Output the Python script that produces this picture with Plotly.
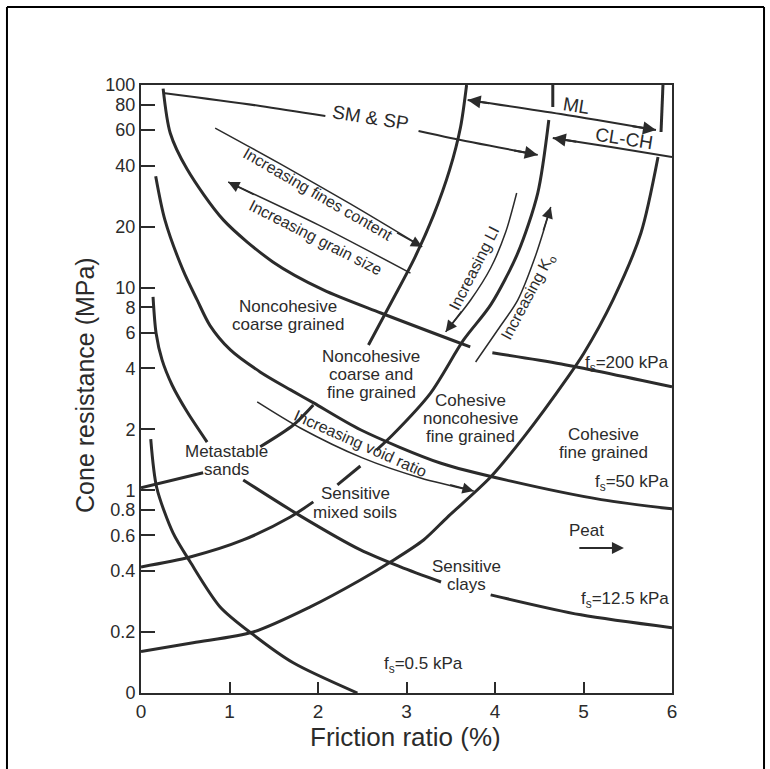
import numpy as np
import plotly.graph_objects as go

INK = "#2b2b2b"
FONT = "Liberation Sans, Arial, Helvetica, sans-serif"

# ---------------- axis ticks ----------------
x_ticks = [0, 1, 2, 3, 4, 5, 6]
y_ticks = [0.1, 0.2, 0.4, 0.6, 0.8, 1, 2, 4, 6, 8, 10, 20, 40, 60, 80, 100]
y_tick_text = ["0", "0.2", "0.4", "0.6", "0.8", "1", "2", "4", "6", "8",
               "10", "20", "40", "60", "80", "100"]

# ---------------- sleeve-friction curves (Rf %, qc MPa) ----------------
fs200_rf = [0.25, 0.33, 0.52, 0.93, 1.49, 2.06, 2.71, 3.72, None, 3.97, 4.75, 6.0]
fs200_qc = [96, 58, 38.5, 21.6, 13.4, 9.75, 7.5, 5.1, None, 4.77, 4.2, 3.24]

fs50_rf = [0.166, 0.27, 0.475, 0.634, 0.78, 1.01, 1.35, 1.69, 1.95, 2.48, 3.39, 4.18, 5.20, 6.0]
fs50_qc = [35.5, 21.6, 12.2, 8.7, 6.5, 4.93, 3.83, 3.13, 2.70, 1.99, 1.36, 1.11, 0.90, 0.81]

fs12_rf = [0.136, 0.170, 0.238, 0.351, 0.521, 0.747, None, 1.155, 1.80, 2.48, 2.932, 3.39,
           None, 3.951, 4.97, 6.0]
fs12_qc = [9.0, 5.98, 4.40, 3.31, 2.44, 1.73, None, 1.125, 0.748, 0.508, 0.419, 0.353,
           None, 0.305, 0.243, 0.21]

fs05_rf = [0.11, 0.178, 0.362, 0.555, 0.894, 1.268, 1.72, 2.445]
fs05_qc = [1.79, 1.03, 0.616, 0.444, 0.266, 0.194, 0.141, 0.1]

# ---------------- soil-zone boundaries ----------------
b1_rf = [0.0, 0.589, 1.268, 1.913, 2.479, 2.819, 3.193, 3.464, 3.951, 4.325, 4.823,
         5.004, 5.332, 5.649, 5.842, None, 5.876, 5.898]
b1_qc = [0.16, 0.177, 0.2, 0.266, 0.361, 0.443, 0.569, 0.738, 1.163, 1.83, 3.62,
         4.75, 8.69, 18.6, 44.1, None, 58.6, 100]

b2_rf = [0.0, 0.555, 1.155, 1.687, 1.947, None, 2.219, 2.479, None, 2.66, 2.842, 3.272,
         3.645, 3.951, 4.257, 4.483, 4.608, None, 4.653, 4.653]
b2_qc = [0.419, 0.469, 0.569, 0.739, 0.877, None, 1.064, 1.318, None, 1.58, 1.876, 3.02,
         5.52, 8.22, 14.8, 29.3, 67.2, None, 77.9, 100]

b3_rf = [0.0, 0.702, None, 1.347, 1.721, 1.947, None, 2.570, 2.842, 3.091, 3.306,
         3.487, 3.611, 3.679]
b3_qc = [1.03, 1.22, None, 1.64, 2.10, 2.64, None, 5.21, 8.69, 14.0, 22.8,
         38.1, 62.1, 100]

# ---------------- USCS range lines at the top ----------------
smsp_rf = [0.249, 1.347, 2.083, None, 3.136, 3.498, 4.483]
smsp_qc = [91.3, 78.8, 70.3, None, 59.3, 54.8, 45.2]

ml_rf = [3.691, 4.744, 5.819]
ml_qc = [84.4, 71.9, 59.9]

clch_rf = [4.653, 5.31, 6.0]
clch_qc = [54.8, 49.4, 44.1]

# ---------------- trend arrows ----------------
fines_rf = [0.838, 1.574, 2.366, 3.178]
fines_qc = [61.3, 40.8, 25.9, 15.9]

grain_rf = [0.985, 2.004, 3.045]
grain_qc = [33.2, 20.4, 11.8]

li_rf = [4.245, 4.121, 3.951, 3.725, 3.442]
li_qc = [29.3, 18.8, 12.5, 8.69, 6.05]

k0_rf = [3.781, 4.030, 4.257, 4.461, 4.630]
k0_qc = [4.30, 6.18, 8.69, 14.5, 25.0]

void_rf = [1.313, 1.80, 2.502, 3.159, 3.759]
void_qc = [2.73, 2.03, 1.445, 1.151, 0.993]

peat_arrow_rf = [4.936, 5.457]
peat_arrow_qc = [0.52, 0.52]

fig = go.Figure()


def add_line(rf, qc, width):
    fig.add_trace(go.Scatter(
        x=rf, y=qc, mode="lines", connectgaps=False,
        line=dict(color=INK, width=width, shape="spline", smoothing=0.8),
        hoverinfo="skip", showlegend=False))


for rf, qc in [(fs200_rf, fs200_qc), (fs50_rf, fs50_qc), (fs12_rf, fs12_qc),
               (fs05_rf, fs05_qc), (b1_rf, b1_qc), (b2_rf, b2_qc), (b3_rf, b3_qc)]:
    add_line(rf, qc, 3)

for rf, qc in [(smsp_rf, smsp_qc), (ml_rf, ml_qc), (clch_rf, clch_qc)]:
    add_line(rf, qc, 2)

for rf, qc in [(fines_rf, fines_qc), (grain_rf, grain_qc), (li_rf, li_qc),
               (k0_rf, k0_qc), (void_rf, void_qc)]:
    add_line(rf, qc, 1.5)

annotations = []


def head(tip, tail, width=1.5, size=1.5):
    annotations.append(dict(
        x=tip[0], y=np.log10(tip[1]), ax=tail[0], ay=np.log10(tail[1]),
        xref="x", yref="y", axref="x", ayref="y", text="", showarrow=True,
        arrowhead=2, arrowsize=size, arrowwidth=width, arrowcolor=INK,
        standoff=0, startstandoff=0))


# arrow heads (tip, point just behind the tip)
head((smsp_rf[-1], smsp_qc[-1]), (4.2, 47.7), 2, 1.3)
head((ml_rf[0], ml_qc[0]), (3.951, 81.1), 2, 1.3)
head((ml_rf[-1], ml_qc[-1]), (5.536, 62.8), 2, 1.3)
head((clch_rf[0], clch_qc[0]), (4.936, 52.4), 2, 1.3)
head((fines_rf[-1], fines_qc[-1]), (2.876, 18.8))
head((grain_rf[0], grain_qc[0]), (1.291, 28.6))
head((li_rf[-1], li_qc[-1]), (3.634, 7.76))
head((k0_rf[-1], k0_qc[-1]), (4.54, 18.8))
head((void_rf[-1], void_qc[-1]), (3.476, 1.07))
head((peat_arrow_rf[1], peat_arrow_qc[1]), (peat_arrow_rf[0], peat_arrow_qc[0]), 2, 1.2)


def label(text, rf, qc, size=17, angle=0, xanchor="center", spacing=18):
    lines = text.split("\n")
    n = len(lines)
    for k, ln in enumerate(lines):
        annotations.append(dict(
            x=rf, y=np.log10(qc), xref="x", yref="y", text=ln, showarrow=False,
            xanchor=xanchor, yanchor="middle", textangle=angle,
            yshift=-(k - (n - 1) / 2) * spacing,
            font=dict(family=FONT, size=size, color=INK)))


label("SM & SP", 2.593, 69.5, 19, 9)
label("ML", 4.913, 78.8, 19, 9)
label("CL-CH", 5.457, 54.2, 19, 9)
label("Increasing fines content", 2.004, 28.7, 16, 30)
label("Increasing grain size", 1.970, 17.6, 16, 27)
label("Increasing LI", 3.759, 12.5, 16, -63)
label("Increasing K<sub>o</sub>", 4.381, 9.0, 16, -62)
label("Noncohesive\ncoarse grained", 1.664, 7.33)
label("Noncohesive\ncoarse and\nfine grained", 2.604, 3.71)
label("Cohesive\nnoncohesive\nfine grained", 3.725, 2.25)
label("Cohesive\nfine grained", 5.23, 1.71)
label("Increasing void ratio", 2.479, 1.71, 16, 24)
label("Metastable\nsands", 0.962, 1.40, spacing=18)
label("Sensitive\nmixed soils", 2.423, 0.867, spacing=19)
label("Sensitive\nclays", 3.679, 0.378)
label("Peat", 5.038, 0.631)
label("f<sub>s</sub>=200 kPa", 5.99, 4.2, xanchor="right")
label("f<sub>s</sub>=50 kPa", 5.99, 1.088, xanchor="right")
label("f<sub>s</sub>=12.5 kPa", 5.99, 0.288, xanchor="right")
label("f<sub>s</sub>=0.5 kPa", 3.193, 0.1377)

# axis titles
annotations.append(dict(x=-0.1055, y=0.5066, xref="paper", yref="paper",
                        text="Cone resistance (MPa)", showarrow=False, textangle=-90,
                        xanchor="center", yanchor="middle",
                        font=dict(family=FONT, size=25, color=INK)))
annotations.append(dict(x=0.499, y=-0.0724, xref="paper", yref="paper",
                        text="Friction ratio (%)", showarrow=False,
                        xanchor="center", yanchor="middle",
                        font=dict(family=FONT, size=26, color=INK)))

# outer page frame
fx0, fx1 = -0.2524, 1.1733
fy0, fy1 = -0.13, 1.1283
shapes = [
    dict(type="line", xref="paper", yref="paper", x0=fx0, x1=fx0, y0=fy0, y1=fy1,
         line=dict(color="black", width=2)),
    dict(type="line", xref="paper", yref="paper", x0=fx0, x1=fx1, y0=fy1, y1=fy1,
         line=dict(color="black", width=2)),
    dict(type="line", xref="paper", yref="paper", x0=fx1, x1=fx1, y0=fy0, y1=fy1,
         line=dict(color="black", width=2)),
]

fig.update_layout(
    width=770, height=769,
    margin=dict(l=141, r=98, t=85, b=76),
    paper_bgcolor="white", plot_bgcolor="white",
    showlegend=False,
    annotations=annotations,
    shapes=shapes,
    font=dict(family=FONT, color=INK),
    xaxis=dict(range=[0, 6], tickvals=x_ticks, ticks="inside", ticklen=11,
               tickwidth=1.5, tickcolor=INK, showline=True, linewidth=2,
               linecolor=INK, mirror=True, showgrid=False, zeroline=False,
               tickfont=dict(family=FONT, size=19, color=INK)),
    yaxis=dict(type="log", range=[-1, 2], tickvals=y_ticks, ticktext=y_tick_text,
               ticks="inside", ticklen=14, tickwidth=1.5, tickcolor=INK,
               showline=True, linewidth=2, linecolor=INK, mirror=True,
               showgrid=False, zeroline=False,
               tickfont=dict(family=FONT, size=18, color=INK)),
)

fig.write_html("out.html")
